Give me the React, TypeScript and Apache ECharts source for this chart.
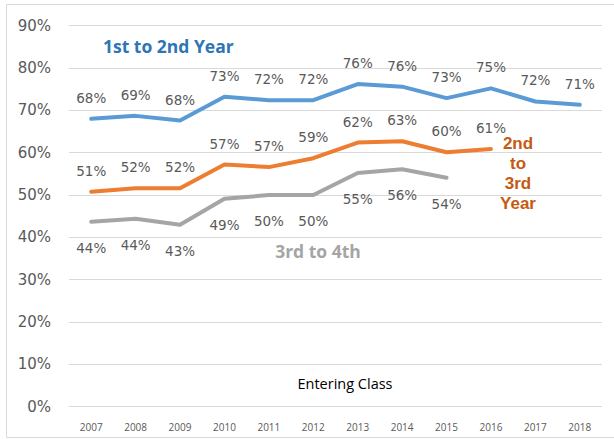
import React, { useEffect, useRef } from "react";
import * as echarts from "echarts";

const years = ["2007", "2008", "2009", "2010", "2011", "2012", "2013", "2014", "2015", "2016", "2017", "2018"];
const firstToSecond = [68.0, 68.7, 67.6, 73.2, 72.4, 72.4, 76.2, 75.6, 72.9, 75.2, 72.1, 71.3];
const secondToThird = [50.8, 51.6, 51.6, 57.2, 56.6, 58.7, 62.4, 62.7, 60.1, 60.9];
const thirdToFourth = [43.7, 44.4, 43.0, 49.1, 50.0, 50.0, 55.2, 56.1, 54.1];
const yTicks = { min: 0, max: 90, interval: 10 };
const secondTitleLines = ["2nd", "to", "3rd", "Year"];

const labelFont = "'DejaVu Sans', 'Open Sans', sans-serif";

export default function App() {
  const ref = useRef<HTMLDivElement>(null);
  useEffect(() => {
    const chart = echarts.init(ref.current!, null, { renderer: "svg" });
    const mkLabel = (pos: "top" | "bottom", dist: number) => ({
      show: true,
      position: pos,
      distance: dist,
      color: "#595959",
      fontSize: 13.5,
      fontFamily: labelFont,
      formatter: (p: any) => Math.round(p.value) + "%",
    });
    const mkLine = (name: string, data: number[], color: string, label: any) => ({
      name,
      type: "line",
      data,
      symbol: "circle",
      symbolSize: 0,
      showSymbol: true,
      itemStyle: { color },
      lineStyle: { color, width: 4, cap: "round", join: "round" },
      label,
      labelLayout: { hideOverlap: false },
    });
    chart.setOption({
      animation: false,
      backgroundColor: "#ffffff",
      grid: { left: 69, right: 12, top: 25.7, bottom: 32.3, containLabel: false },
      xAxis: {
        type: "category",
        data: years,
        boundaryGap: true,
        axisLine: { show: false },
        axisTick: { show: false },
        axisLabel: { color: "#595959", fontSize: 10, margin: 15, fontFamily: "'Open Sans', sans-serif" },
      },
      yAxis: {
        type: "value",
        min: yTicks.min,
        max: yTicks.max,
        interval: yTicks.interval,
        axisLine: { show: false },
        axisTick: { show: false },
        splitLine: { lineStyle: { color: "#D9D9D9", width: 1 } },
        axisLabel: {
          color: "#595959",
          fontSize: 15,
          margin: 18,
          fontFamily: labelFont,
          formatter: (v: number) => v + "%",
        },
      },
      series: [
        mkLine("1st to 2nd Year", firstToSecond, "#5B9BD5", mkLabel("top", 14)),
        mkLine("2nd to 3rd Year", secondToThird, "#ED7D31", mkLabel("top", 14)),
        mkLine("3rd to 4th", thirdToFourth, "#A5A5A5", mkLabel("bottom", 19)),
      ],
      graphic: [
        {
          type: "rect",
          shape: { x: 6.5, y: 4.5, width: 620, height: 433 },
          style: { fill: "none", stroke: "#D9D9D9", lineWidth: 1 },
          silent: true,
        },
        {
          type: "text",
          x: 103,
          y: 46,
          style: {
            text: "1st to 2nd Year",
            fill: "#2E75B6",
            font: "bold 17.5px 'Open Sans', sans-serif",
            verticalAlign: "middle",
          },
        },
        ...secondTitleLines.map((t, i) => ({
          type: "text",
          x: 518,
          y: 143 + i * 20.3,
          style: {
            text: t,
            fill: "#C55A11",
            font: "bold 17px 'Liberation Sans', sans-serif",
            align: "center",
            verticalAlign: "middle",
          },
        })),
        {
          type: "text",
          x: 318,
          y: 251,
          style: {
            text: "3rd to 4th",
            fill: "#A5A5A5",
            font: "bold 17.5px 'Open Sans', sans-serif",
            align: "center",
            verticalAlign: "middle",
          },
        },
        {
          type: "text",
          x: 345,
          y: 383,
          style: {
            text: "Entering Class",
            fill: "#000000",
            font: "14.5px 'Open Sans', sans-serif",
            align: "center",
            verticalAlign: "middle",
          },
        },
      ],
    });
    return () => chart.dispose();
  }, []);
  return (
    <div
      ref={ref}
      style={{ position: "absolute", left: 0, top: 0, width: 614, height: 439 }}
    />
  );
}
